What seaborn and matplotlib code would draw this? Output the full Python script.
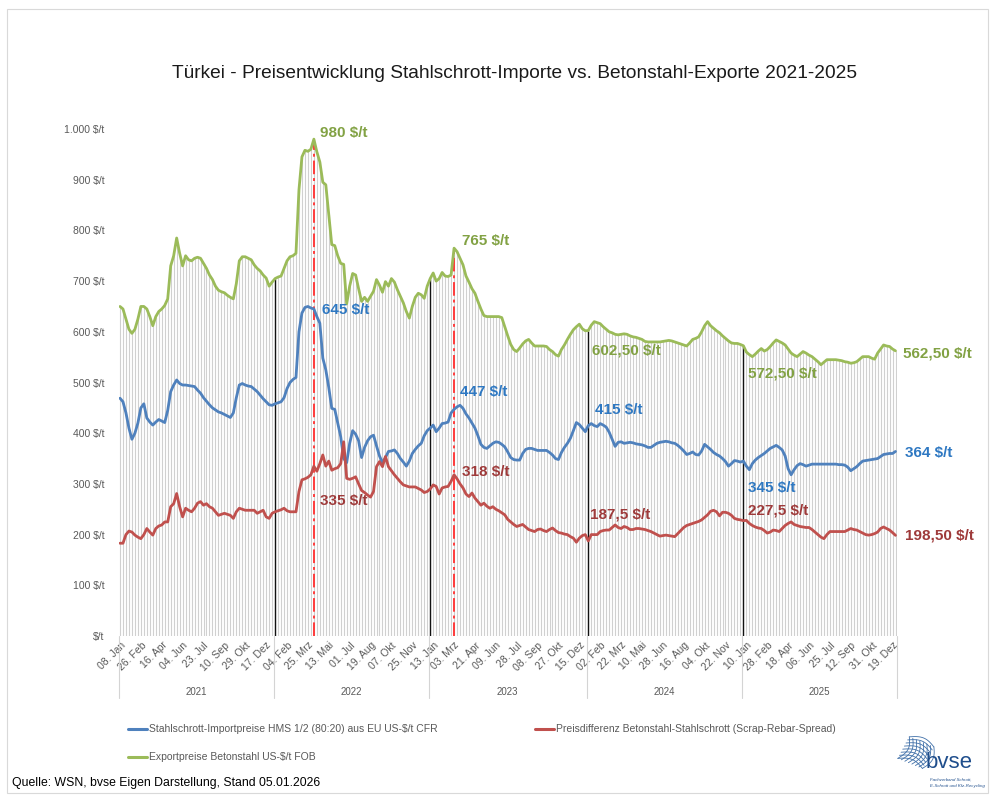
import numpy as np
import pandas as pd
import matplotlib.pyplot as plt
import matplotlib.transforms as mtransforms
from matplotlib.lines import Line2D
from matplotlib.patches import Rectangle
import seaborn as sns

# weekly values, one point per week (Excel category axis), 08.01.2021 - 26.12.2025
green_2021 = [650, 645, 625, 605, 597, 605, 625, 650, 650, 645,
              630, 612, 630, 640, 645, 652, 665, 730, 750, 785,
              755, 730, 750, 742, 740, 745, 747, 745, 735, 725,
              712, 703, 690, 682, 679, 677, 672, 668, 665, 695,
              740, 748, 748, 745, 742, 732, 725, 720, 712, 706,
              690, 698]
green_2022 = [705, 708, 710, 725, 740, 748, 750, 755, 880, 945,
              958, 956, 960, 980, 955, 935, 895, 890, 830, 772,
              770, 750, 735, 733, 655, 690, 715, 712, 685, 660,
              668, 660, 670, 680, 703, 692, 678, 699, 690, 705,
              698, 683, 670, 657, 640, 627, 650, 668, 676, 673,
              666, 690]
green_2023 = [705, 716, 700, 705, 717, 710, 709, 712, 765, 758,
              745, 732, 710, 698, 685, 676, 660, 645, 632, 630,
              630, 630, 630, 630, 628, 610, 592, 575, 565, 561,
              568, 576, 582, 585, 578, 572, 572, 572, 572, 571,
              565, 561, 555, 552, 565, 574, 585, 595, 604, 610,
              615, 606, 602]
green_2024 = [602.5, 613, 620, 618, 616, 610, 605, 600, 598, 595,
              594, 595, 596, 595, 592, 590, 589, 587, 585, 581,
              580, 580, 580, 580, 580, 581, 582, 583, 582, 580,
              578, 576, 574, 572, 578, 585, 587, 590, 600, 612,
              620, 612, 607, 602, 598, 592, 587, 582, 578, 577,
              577, 575]
green_2025 = [572.5, 560, 555, 551, 556, 562, 567, 562, 565, 571,
              578, 584, 581, 578, 574, 566, 558, 554, 551, 556,
              561, 558, 554, 551, 546, 541, 535, 540, 545, 545,
              545, 545, 544, 543, 541, 540, 538, 539, 541, 546,
              551, 551, 551, 548, 546, 558, 566, 574, 572, 571,
              566, 562.5]

blue_2021 = [469, 462, 440, 410, 388, 400, 420, 450, 458, 430,
             422, 416, 422, 427, 424, 421, 445, 482, 495, 505,
             498, 495, 495, 494, 493, 492, 485, 479, 470, 463,
             456, 450, 446, 442, 440, 437, 434, 431, 440, 470,
             495, 498, 495, 493, 492, 487, 482, 475, 468, 462,
             456, 455]
blue_2022 = [458, 460, 462, 470, 488, 500, 506, 510, 600, 637,
             648, 650, 647, 645, 630, 617, 548, 525, 490, 449,
             447, 420, 393, 350, 342, 380, 405, 398, 385, 352,
             372, 385, 393, 396, 375, 355, 342, 352, 364, 365,
             367, 360, 350, 343, 335, 345, 360, 368, 375, 380,
             395, 405]
blue_2023 = [410, 416, 403, 410, 419, 420, 422, 440, 447, 452,
             455, 449, 438, 430, 420, 410, 395, 378, 372, 370,
             375, 380, 383, 382, 378, 373, 363, 352, 348, 347,
             347, 360, 368, 370, 370, 368, 366, 366, 366, 366,
             362, 357, 350, 348, 362, 372, 380, 390, 405, 421,
             417, 410, 403]
blue_2024 = [415, 419, 415, 413, 419, 416, 412, 402, 388, 374,
             382, 383, 380, 381, 382, 381, 379, 378, 377, 375,
             372, 372, 376, 380, 382, 383, 384, 383, 381, 380,
             376, 371, 365, 358, 360, 363, 358, 357, 365, 378,
             373, 368, 362, 358, 355, 350, 344, 335, 340, 346,
             345, 343]
blue_2025 = [345, 335, 328, 340, 347, 352, 356, 360, 365, 370,
             373, 376, 372, 367, 355, 330, 318, 328, 336, 340,
             338, 335, 337, 339, 339, 339, 339, 339, 339, 339,
             339, 339, 338, 338, 337, 333, 326, 330, 334, 340,
             345, 346, 347, 348, 349, 350, 354, 358, 359, 360,
             360, 364]

red_2021 = [183, 183, 200, 207, 205, 199, 195, 192, 200, 212,
            205, 199, 212, 217, 219, 225, 225, 255, 261, 281,
            255, 235, 252, 248, 245, 252, 262, 265, 258, 261,
            255, 252, 245, 238, 240, 242, 240, 238, 232, 245,
            252, 250, 248, 248, 248, 248, 242, 245, 248, 235,
            232, 242]
red_2022 = [245, 247, 249, 252, 247, 245, 245, 245, 285, 308,
            310, 313, 318, 335, 325, 340, 357, 335, 345, 327,
            330, 332, 340, 383, 311, 309, 311, 314, 300, 287,
            283, 278, 274, 285, 334, 344, 334, 354, 334, 326,
            318, 311, 304, 298, 296, 294, 294, 294, 291, 288,
            283, 285]
red_2023 = [290, 298, 295, 280, 292, 294, 295, 305, 318, 310,
            300, 292, 280, 275, 282, 272, 265, 258, 262, 256,
            252, 255, 250, 247, 243, 239, 230, 225, 220, 216,
            218, 220, 215, 210, 208, 206, 210, 211, 208, 206,
            210, 213, 208, 204, 203, 201, 200, 196, 193, 185,
            193, 198, 200]
red_2024 = [187.5, 200, 200, 200, 206, 208, 209, 209, 214, 219,
            214, 212, 216, 214, 210, 210, 212, 212, 211, 210,
            208, 206, 203, 200, 197, 198, 199, 198, 197, 196,
            202, 208, 214, 218, 220, 222, 224, 226, 229, 234,
            239, 246, 248, 245, 237, 244, 244, 242, 238, 232,
            230, 229]
red_2025 = [227.5, 228, 222, 218, 215, 213, 212, 208, 203, 205,
            209, 208, 206, 212, 218, 222, 225, 220, 218, 216,
            215, 214, 214, 210, 205, 200, 195, 192, 200, 206,
            206, 206, 206, 206, 206, 209, 212, 210, 209, 206,
            203, 200, 199, 200, 202, 205, 212, 215, 212, 209,
            204, 198.5]

years = ["2021", "2022", "2023", "2024", "2025"]
tick_labels = ["08. Jan", "26. Feb", "16. Apr", "04. Jun", "23. Jul", "10. Sep", "29. Okt", "17. Dez",
               "04. Feb", "25. Mrz", "13. Mai", "01. Jul", "19. Aug", "07. Okt", "25. Nov",
               "13. Jan", "03. Mrz", "21. Apr", "09. Jun", "28. Jul", "08. Sep", "27. Okt", "15. Dez",
               "02. Feb", "22. Mrz", "10. Mai", "28. Jun", "16. Aug", "04. Okt", "22. Nov",
               "10. Jan", "28. Feb", "18. Apr", "06. Jun", "25. Jul", "12. Sep", "31. Okt", "19. Dez"]
ytick_labels = ["$/t", "100 $/t", "200 $/t", "300 $/t", "400 $/t", "500 $/t",
                "600 $/t", "700 $/t", "800 $/t", "900 $/t", "1.000 $/t"]
names = ["Stahlschrott-Importpreise HMS 1/2 (80:20) aus EU US-$/t CFR",
         "Preisdifferenz Betonstahl-Stahlschrott (Scrap-Rebar-Spread)",
         "Exportpreise Betonstahl US-$/t FOB"]
peak_weeks = [65, 112]

green = np.array(green_2021 + green_2022 + green_2023 + green_2024 + green_2025)
blue = np.array(blue_2021 + blue_2022 + blue_2023 + blue_2024 + blue_2025)
red = np.array(red_2021 + red_2022 + red_2023 + red_2024 + red_2025)
year_sizes = [len(g) for g in (green_2021, green_2022, green_2023, green_2024, green_2025)]
n = len(green)
idx = np.arange(n)

long = pd.DataFrame({
    "idx": np.tile(idx, 3),
    "value": np.concatenate([blue, red, green]),
    "series": np.repeat(names, n),
})

sns.set_theme(style="white")
plt.rcParams["font.family"] = ["Liberation Sans", "DejaVu Sans"]

c_blue, c_red, c_green = "#4f81bd", "#c0504d", "#9bbb59"
t_blue, t_red, t_green = "#2e78c2", "#9e3a3a", "#82a244"
grey_txt = "#595959"

W, H = 992, 798
fx = lambda px: px / W
fy = lambda py: 1 - py / H

fig = plt.figure(figsize=(9.92, 7.98), dpi=100)
ax = fig.add_axes([fx(118.5), fy(636), fx(897) - fx(118.5), fy(129) - fy(636)])

# drop lines for every week
ax.vlines(idx, 0, green, colors="#d0d0d0", lw=0.8, zorder=1)
starts = np.cumsum([0] + year_sizes[:-1])[1:]
ax.vlines(starts, 0, green[starts], colors="#111111", lw=1.0, zorder=2)
ax.vlines(peak_weeks, 0, green[peak_weeks], colors="#ff3b3b", lw=1.4,
          linestyles=(0, (7, 2, 1.5, 2)), zorder=2)

sns.lineplot(data=long, x="idx", y="value", hue="series", hue_order=names,
             palette=[c_blue, c_red, c_green], linewidth=2, estimator=None,
             sort=False, legend=False, ax=ax, zorder=3)

ax.set_xlim(-0.5, n - 0.5)
ax.set_ylim(0, 1000)
ax.set_xlabel("")
ax.set_ylabel("")
for s in ax.spines.values():
    s.set_visible(False)
ax.set_xticks(idx[::7])
ax.set_xticklabels(tick_labels, rotation=45, ha="right", rotation_mode="anchor")
ax.set_yticks(range(0, 1001, 100))
ax.set_yticklabels(ytick_labels)
ax.tick_params(length=0, labelsize=7.5, labelcolor=grey_txt)
ax.tick_params(axis="x", pad=3)
ax.tick_params(axis="y", pad=10)

# year groups below the ticks
trans = mtransforms.blended_transform_factory(ax.transData, ax.transAxes)
bounds = [-0.5] + list(np.cumsum(year_sizes) - 0.5)
for b in bounds:
    ax.plot([b, b], [0, -0.122], transform=trans, color="#d4d4d4", lw=0.8, clip_on=False)
for yr, lo, hi in zip(years, bounds[:-1], bounds[1:]):
    ax.text((lo + hi) / 2, -0.11, yr, transform=trans, ha="center", va="center",
            fontsize=7, color=grey_txt)

# value labels
labels = [
    ("980 $/t", 67.1, 992, t_green), ("765 $/t", 114.7, 779, t_green),
    ("602,50 $/t", 158.3, 564, t_green), ("572,50 $/t", 210.5, 517, t_green),
    ("562,50 $/t", 262.5, 558, t_green),
    ("645 $/t", 67.8, 643, t_blue), ("447 $/t", 114.0, 481, t_blue),
    ("415 $/t", 159.3, 446, t_blue), ("345 $/t", 210.5, 292, t_blue),
    ("364 $/t", 263.2, 361, t_blue),
    ("335 $/t", 67.1, 266, t_red), ("318 $/t", 114.7, 323, t_red),
    ("187,5 $/t", 157.6, 239, t_red), ("227,5 $/t", 210.5, 248, t_red),
    ("198,50 $/t", 263.2, 199, t_red),
]
for txt, x, y, col in labels:
    ax.text(x, y, txt, ha="left", va="center", fontsize=11, fontweight="bold",
            color=col, clip_on=False, zorder=4)

fig.text(fx(514), fy(73), "Türkei - Preisentwicklung Stahlschrott-Importe vs. Betonstahl-Exporte 2021-2025",
         ha="center", va="center", fontsize=13.8, color="#1a1a1a")

# legend
for px0, py, col, lab in [(128, 729, c_blue, names[0]), (535, 729, c_red, names[1]),
                          (128, 757, c_green, names[2])]:
    fig.add_artist(Line2D([fx(px0), fx(px0 + 19)], [fy(py), fy(py)], color=col, lw=2.2))
    fig.text(fx(px0 + 21), fy(py), lab, ha="left", va="center", fontsize=7.5, color=grey_txt)

fig.text(fx(12), fy(783), "Quelle: WSN, bvse Eigen Darstellung, Stand 05.01.2026",
         ha="left", va="center", fontsize=8.8, color="black")

# bvse logo
gx = fig.add_axes([fx(896), fy(770), fx(936) - fx(896), fy(735) - fy(770)])
gx.axis("off")
t = np.linspace(0, 1, 40)
rot = np.deg2rad(-25)
for k in np.linspace(0, 1, 8):
    for xs, ys in [(t, k + 0.18 * np.sin(np.pi * t)), (k + 0.18 * np.sin(np.pi * t), t)]:
        xr = xs * np.cos(rot) - ys * np.sin(rot)
        yr = xs * np.sin(rot) + ys * np.cos(rot)
        gx.plot(xr, yr, color="#3f6fa8", lw=0.6)
fig.text(fx(926), fy(763), "bvse", ha="left", va="center", fontsize=16, color="#1f4e8c")
fig.text(fx(930), fy(780), "Fachverband Schrott,", ha="left", va="center", fontsize=3.2,
         color="#1f4e8c", style="italic")
fig.text(fx(930), fy(786), "E-Schrott und Kfz-Recycling", ha="left", va="center", fontsize=3.2,
         color="#1f4e8c", style="italic")

fig.add_artist(Rectangle((fx(7), fy(793)), fx(988) - fx(7), fy(9) - fy(793),
                         transform=fig.transFigure, fill=False, ec="#d9d9d9", lw=0.8))

fig.savefig("out.png", dpi=100)
